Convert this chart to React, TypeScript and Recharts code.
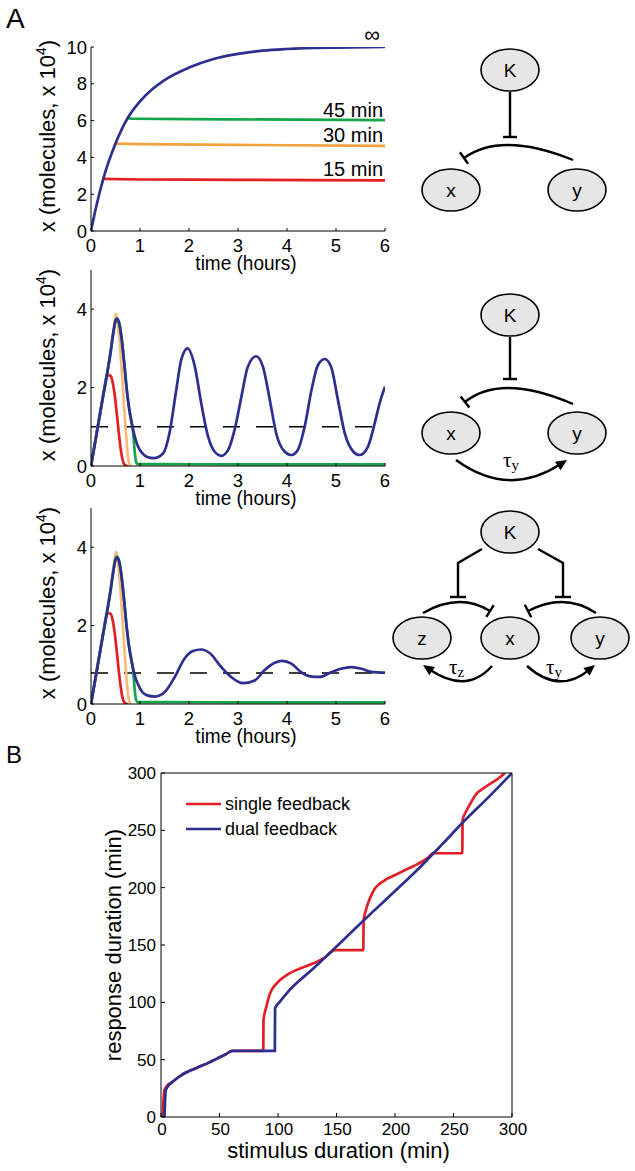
import React from "react";
import {
	Label,
	Legend,
	Line,
	LineChart,
	ReferenceDot,
	ReferenceLine,
	XAxis,
	YAxis,
} from "recharts";

type Pt = [number, number];

const FONT = "'Liberation Sans', Arial, Helvetica, sans-serif";
const SERIF = "'Liberation Serif', 'Times New Roman', serif";

const BLUE = "#2d2e8f";
const RED = "#e41e26";
const GREEN = "#14a54b";
const ORANGE = "#efa23f";
const PALE_ORANGE = "#f8bb7a";

// axes
const hours = [0, 1, 2, 3, 4, 5, 6];
const sustainedTicks = [0, 2, 4, 6, 8, 10];
const oscTicks = [0, 2, 4];
const durationTicks = [0, 50, 100, 150, 200, 250, 300];
const legendOrder = ["single feedback", "dual feedback"];

// panel A, top: no feedback [time (h), x (x10^4)]
const noFbCont: Pt[] = [
	[0, 0], [0.1, 1.25], [0.25, 2.83], [0.5, 4.75], [0.75, 6.15], [1, 7.05],
	[1.25, 7.7], [1.5, 8.2], [2, 8.88], [2.5, 9.35], [3, 9.63], [3.5, 9.8],
	[4, 9.89], [5, 9.97], [6, 10],
];
const noFb15: Pt[] = [[0.25, 2.83], [1, 2.8], [3, 2.78], [6, 2.75]];
const noFb30: Pt[] = [[0.5, 4.75], [1, 4.72], [3, 4.68], [6, 4.63]];
const noFb45: Pt[] = [[0.75, 6.15], [0.85, 6.1], [2, 6.08], [6, 6.03]];

// panel A, middle: single (delayed) negative feedback
const singleFbCont: Pt[] = [
	[0, 0], [0.1, 0.72], [0.2, 1.45], [0.3, 2.15], [0.4, 2.9], [0.45, 3.35],
	[0.5, 3.7], [0.53, 3.76], [0.58, 3.62], [0.63, 3.2], [0.68, 2.6], [0.73, 1.95],
	[0.78, 1.45], [0.83, 1.1], [0.9, 0.72], [0.96, 0.5], [1.05, 0.32], [1.15, 0.23],
	[1.28, 0.2], [1.47, 0.32], [1.6, 0.83], [1.74, 1.94], [1.84, 2.7], [1.97, 3.0],
	[2.12, 2.53], [2.25, 1.6], [2.39, 0.75], [2.52, 0.37], [2.66, 0.26], [2.8, 0.41],
	[2.93, 0.92], [3.07, 1.77], [3.2, 2.53], [3.37, 2.8], [3.51, 2.53], [3.65, 1.68],
	[3.78, 0.83], [3.95, 0.37], [4.09, 0.28], [4.22, 0.41], [4.36, 1.0], [4.5, 1.94],
	[4.63, 2.57], [4.77, 2.73], [4.9, 2.53], [5.04, 1.68], [5.18, 0.83], [5.35, 0.37],
	[5.48, 0.28], [5.65, 0.49], [5.79, 1.09], [5.89, 1.6], [6, 2.02],
];
const singleFbThreshold = 1.0;

// panel A, bottom: dual feedback
const dualFbCont: Pt[] = [
	[0, 0], [0.1, 0.72], [0.2, 1.45], [0.3, 2.15], [0.4, 2.9], [0.45, 3.33],
	[0.5, 3.68], [0.53, 3.74], [0.58, 3.6], [0.63, 3.18], [0.68, 2.58], [0.73, 1.93],
	[0.78, 1.43], [0.83, 1.08], [0.9, 0.7], [0.96, 0.5], [1.05, 0.3], [1.15, 0.22],
	[1.3, 0.19], [1.5, 0.3], [1.71, 0.69], [1.91, 1.16], [2.08, 1.35], [2.25, 1.39],
	[2.42, 1.3], [2.66, 0.94], [2.86, 0.69], [3.1, 0.53], [3.34, 0.6], [3.54, 0.86],
	[3.75, 1.05], [3.9, 1.1], [4.09, 1.03], [4.29, 0.81], [4.5, 0.7], [4.67, 0.69],
	[4.9, 0.81], [5.1, 0.9], [5.31, 0.94], [5.52, 0.9], [5.72, 0.82], [6, 0.8],
];
const dualFbThreshold = 0.79;

// pulse responses (same in both feedback panels)
const pulse15: Pt[] = [
	[0, 0], [0.1, 0.72], [0.2, 1.45], [0.28, 2.05], [0.31, 2.25], [0.35, 2.32],
	[0.4, 2.3], [0.44, 2.15], [0.48, 1.85], [0.53, 1.3], [0.58, 0.7], [0.63, 0.25],
	[0.67, 0.06], [0.71, 0.01], [0.75, 0],
];
const pulse30: Pt[] = [
	[0, 0], [0.1, 0.72], [0.2, 1.45], [0.3, 2.15], [0.4, 2.95], [0.46, 3.5],
	[0.51, 3.88], [0.54, 3.7], [0.59, 3.1], [0.65, 2.0], [0.71, 0.9], [0.76, 0.2],
	[0.79, 0.03], [0.82, 0],
];
const pulse45: Pt[] = [
	[0, 0], [0.1, 0.72], [0.2, 1.45], [0.3, 2.15], [0.4, 2.9], [0.45, 3.35],
	[0.5, 3.7], [0.53, 3.76], [0.58, 3.62], [0.63, 3.2], [0.68, 2.6], [0.73, 1.95],
	[0.78, 1.45], [0.83, 1.1], [0.86, 0.85], [0.89, 0.4], [0.92, 0.1], [0.95, 0.05],
	[1.5, 0.05], [3, 0.04], [6, 0.04],
];

// panel B [stimulus (min), response (min)]
const singleResponse: Pt[] = [
	[1.5, 0], [2, 12], [2.8, 23], [5, 27], [9, 30], [14, 34], [19, 37.5], [25, 40.5],
	[33, 44], [40, 47], [47, 50.5], [55, 54.5], [61, 57.7], [87.4, 57.7], [87.6, 84.6],
	[90, 96], [93.2, 107.8], [98.9, 116.5], [107.4, 123.7], [118.8, 129.5],
	[130.2, 134], [140, 139], [148.7, 145.5], [172.9, 145.5], [173.2, 171.6],
	[175, 180], [177.5, 188], [180, 194], [183, 199.5], [187, 203.5], [192, 207],
	[200, 211], [210, 216], [220, 221], [228, 226], [232.5, 230], [257.5, 230],
	[257.8, 259], [260.5, 266], [263.7, 272], [269, 281], [277.6, 288], [288, 295],
	[294, 300],
];
const dualResponse: Pt[] = [
	[3, 0], [3.4, 12], [4, 23], [6, 27], [9, 30], [14, 34], [19, 37.5], [25, 40.5],
	[33, 44], [40, 47], [47, 50.5], [55, 54.5], [61, 57.7], [97.3, 57.7], [97.5, 94.8],
	[102, 101], [107.4, 107.8], [113, 114], [118.8, 119.4], [130.2, 129.6],
	[140, 139], [160, 158.5], [180, 178], [200, 197], [218.5, 215], [240, 237.5],
	[260, 259], [280, 279], [300, 300],
];

const pts = (s: Pt[]) => s.map(([t, v]) => ({ t, v }));
const last = (s: Pt[]) => s[s.length - 1][1];

// ---------- ticks & labels ----------
const leftTickA = (p: any) => (
	<g>
		<line x1={p.x + 4} x2={p.x + 7} y1={p.y} y2={p.y} stroke="#000" />
		<text x={p.x} y={p.y} dy="0.36em" textAnchor="end" fontSize={18.5} fontFamily={FONT} fill="#000">
			{p.payload.value}
		</text>
	</g>
);
const bottomTickA = (p: any) => (
	<g>
		<line x1={p.x} x2={p.x} y1={p.y} y2={p.y - 3} stroke="#000" />
		<text x={p.x} y={p.y + 21} textAnchor="middle" fontSize={18.5} fontFamily={FONT} fill="#000">
			{p.payload.value}
		</text>
	</g>
);
const leftTickB = (p: any) => (
	<g>
		<line x1={p.x + 5} x2={p.x + 9} y1={p.y} y2={p.y} stroke="#000" />
		<text x={p.x} y={p.y} dy="0.36em" textAnchor="end" fontSize={17} fontFamily={FONT} fill="#000">
			{p.payload.value}
		</text>
	</g>
);
const bottomTickB = (p: any) => (
	<g>
		<line x1={p.x} x2={p.x} y1={p.y} y2={p.y - 4} stroke="#000" />
		<text x={p.x + 1} y={p.y + 18} textAnchor="middle" fontSize={17} fontFamily={FONT} fill="#000">
			{p.payload.value}
		</text>
	</g>
);
const topTickB = (p: any) => <line x1={p.x} x2={p.x} y1={p.y} y2={p.y + 4} stroke="#000" />;
const rightTickB = (p: any) => <line x1={p.x} x2={p.x - 4} y1={p.y} y2={p.y} stroke="#000" />;

const timeLabel = (props: any) => {
	const vb = props.viewBox;
	return (
		<text
			transform={`translate(${vb.x + vb.width / 2 + 8},${vb.y + 39}) scale(1,1.05)`}
			textAnchor="middle"
			fontSize={19}
			fontFamily={FONT}
			fill="#000"
		>
			time (hours)
		</text>
	);
};
const moleculesLabel = (props: any) => {
	const vb = props.viewBox;
	return (
		<text
			transform={`translate(${vb.x + 55},${vb.y + vb.height / 2 - 3}) rotate(-90)`}
			textAnchor="middle"
			fontSize={22}
			fontFamily={FONT}
			fill="#000"
		>
			x (molecules, x 10<tspan dy={-9} fontSize={14}>4</tspan>
			<tspan dy={9}>)</tspan>
		</text>
	);
};
const endNote = (text: string, size: number, dx: number, dy: number) => (props: any) => (
	<text x={props.viewBox.x + dx} y={props.viewBox.y + dy} textAnchor="end" fontSize={size} fontFamily={FONT} fill="#000">
		{text}
	</text>
);

const axisStroke = { stroke: "#000", strokeWidth: 1 };

function TimePanel({ top, height, marginTop, yMax, ticks, children }: any) {
	return (
		<div style={{ position: "absolute", left: 0, top }}>
			<LineChart width={400} height={height} margin={{ top: marginTop, right: 15, bottom: 0, left: 0 }}>
				<XAxis
					dataKey="t"
					type="number"
					domain={[0, 6]}
					ticks={hours}
					interval={0}
					height={47}
					tickSize={0}
					tickMargin={0}
					tick={bottomTickA}
					axisLine={axisStroke}
					allowDataOverflow
				>
					<Label content={timeLabel} />
				</XAxis>
				<YAxis
					type="number"
					domain={[0, yMax]}
					ticks={ticks}
					interval={0}
					width={91}
					tickSize={0}
					tickMargin={4}
					tick={leftTickA}
					axisLine={axisStroke}
					allowDataOverflow
				>
					<Label content={moleculesLabel} />
				</YAxis>
				{children}
			</LineChart>
		</div>
	);
}

const series = (data: Pt[], color: string) => (
	<Line
		data={pts(data)}
		dataKey="v"
		type="monotone"
		stroke={color}
		strokeWidth={2.7}
		dot={false}
		isAnimationActive={false}
	/>
);

// ---------- network diagrams ----------
function Node({ cx, cy, label }: { cx: number; cy: number; label: string }) {
	return (
		<g>
			<ellipse cx={cx} cy={cy} rx={29} ry={21} fill="#e6e6e6" stroke="#000" strokeWidth={1.6} />
			<text x={cx} y={cy} dy="0.35em" textAnchor="middle" fontSize={19} fontFamily={FONT}>
				{label}
			</text>
		</g>
	);
}

function unit(ax: number, ay: number, bx: number, by: number) {
	const dx = bx - ax;
	const dy = by - ay;
	const l = Math.hypot(dx, dy) || 1;
	return [dx / l, dy / l];
}

function Inhibit({ p }: { p: number[] }) {
	const [x0, y0, cx, cy, x1, y1] = p;
	const [ux, uy] = unit(cx, cy, x1, y1);
	const h = 7;
	return (
		<g stroke="#000" strokeWidth={2.4} fill="none">
			<path d={`M${x0} ${y0} Q${cx} ${cy} ${x1} ${y1}`} />
			<line x1={x1 - uy * h} y1={y1 + ux * h} x2={x1 + uy * h} y2={y1 - ux * h} />
		</g>
	);
}

function Activate({ p }: { p: number[] }) {
	const [x0, y0, cx, cy, x1, y1] = p;
	const [ux, uy] = unit(cx, cy, x1, y1);
	const bx = x1 - ux * 11;
	const by = y1 - uy * 11;
	return (
		<g>
			<path d={`M${x0} ${y0} Q${cx} ${cy} ${bx + ux * 3} ${by + uy * 3}`} stroke="#000" strokeWidth={2.4} fill="none" />
			<polygon points={`${x1},${y1} ${bx - uy * 5},${by + ux * 5} ${bx + uy * 5},${by - ux * 5}`} fill="#000" />
		</g>
	);
}

function Tau({ x, y, sub }: { x: number; y: number; sub: string }) {
	return (
		<text x={x} y={y} fontSize={21} fontFamily={SERIF} fill="#000">
			τ<tspan fontSize={15} dy={3}>{sub}</tspan>
		</text>
	);
}

function Diagrams() {
	return (
		<svg width={635} height={1171} style={{ position: "absolute", left: 0, top: 0 }}>
			<text x={6} y={28} fontSize={28} fontFamily={FONT}>A</text>
			<text x={6} y={763} fontSize={24} fontFamily={FONT}>B</text>

			{/* no feedback */}
			<Node cx={510} cy={70} label="K" />
			<Node cx={451} cy={190} label="x" />
			<Node cx={577} cy={190} label="y" />
			<Inhibit p={[510, 92, 510, 115, 510, 137]} />
			<Inhibit p={[573, 160, 501.5, 131, 464, 158]} />

			{/* single feedback */}
			<Node cx={510} cy={315} label="K" />
			<Node cx={451} cy={433} label="x" />
			<Node cx={577} cy={433} label="y" />
			<Inhibit p={[510, 337, 510, 358, 510, 379]} />
			<Inhibit p={[573, 404, 501, 373, 465, 402]} />
			<Activate p={[456, 460, 508.5, 498, 567, 460]} />
			<Tau x={503} y={467} sub="y" />

			{/* dual feedback */}
			<Node cx={510} cy={532} label="K" />
			<Node cx={422} cy={638} label="z" />
			<Node cx={510} cy={638} label="x" />
			<Node cx={600} cy={638} label="y" />
			<g stroke="#000" strokeWidth={2.4} fill="none">
				<path d="M482 549 L458 563 L458 597" />
				<line x1={450} x2={466} y1={597} y2={597} />
				<path d="M538 549 L563 563 L563 597" />
				<line x1={555} x2={571} y1={597} y2={597} />
			</g>
			<Inhibit p={[423, 613, 459.5, 592, 490, 611]} />
			<Inhibit p={[596, 613, 564.5, 592, 528, 611]} />
			<Activate p={[492, 666, 466.5, 694.5, 423, 665]} />
			<Activate p={[527, 666, 559, 694.5, 595, 665]} />
			<Tau x={449} y={674} sub="z" />
			<Tau x={546} y={674} sub="y" />
		</svg>
	);
}

const legendContent = (props: any) => {
	const items = [...(props.payload || [])].sort(
		(a: any, b: any) => legendOrder.indexOf(a.value) - legendOrder.indexOf(b.value),
	);
	return (
		<svg width={220} height={50}>
			{items.map((e: any, i: number) => (
				<g key={e.value}>
					<line x1={0} x2={35} y1={12 + 25 * i} y2={12 + 25 * i} stroke={e.color} strokeWidth={2.7} />
					<text x={39} y={12 + 25 * i} dy="0.35em" fontSize={18} fontFamily={FONT} fill="#000">
						{e.value}
					</text>
				</g>
			))}
		</svg>
	);
};

export default function App() {
	return (
		<div style={{ position: "absolute", left: 0, top: 0, width: 635, height: 1171, background: "#fff" }}>
			<Diagrams />

			<TimePanel top={0} height={278} marginTop={47} yMax={10} ticks={sustainedTicks}>
				{series(noFb15, RED)}
				{series(noFb30, ORANGE)}
				{series(noFb45, GREEN)}
				{series(noFbCont, BLUE)}
				<ReferenceDot x={6} y={last(noFbCont)} r={0} fill="none" stroke="none" label={<Label content={endNote("∞", 22, -5, -5)} />} />
				<ReferenceDot x={6} y={last(noFb45)} r={0} fill="none" stroke="none" label={<Label content={endNote("45 min", 20, -2, -3)} />} />
				<ReferenceDot x={6} y={last(noFb30)} r={0} fill="none" stroke="none" label={<Label content={endNote("30 min", 20, -2, -4)} />} />
				<ReferenceDot x={6} y={last(noFb15)} r={0} fill="none" stroke="none" label={<Label content={endNote("15 min", 20, -2, -4)} />} />
			</TimePanel>

			<TimePanel top={250} height={263} marginTop={20} yMax={5} ticks={oscTicks}>
				<ReferenceLine y={singleFbThreshold} stroke="#000" strokeWidth={1.6} strokeDasharray="17 16" />
				{series(pulse15, RED)}
				{series(pulse30, PALE_ORANGE)}
				{series(pulse45, GREEN)}
				{series(singleFbCont, BLUE)}
			</TimePanel>

			<TimePanel top={488} height={263} marginTop={20} yMax={5} ticks={oscTicks}>
				<ReferenceLine y={dualFbThreshold} stroke="#000" strokeWidth={1.6} strokeDasharray="17 16" />
				{series(pulse15, RED)}
				{series(pulse30, PALE_ORANGE)}
				{series(pulse45, GREEN)}
				{series(dualFbCont, BLUE)}
			</TimePanel>

			<div style={{ position: "absolute", left: 60, top: 750 }}>
				<LineChart width={485} height={421} margin={{ top: 22, right: 32, bottom: 0, left: 0 }}>
					<XAxis
						dataKey="t"
						type="number"
						domain={[0, 300]}
						ticks={durationTicks}
						interval={0}
						height={54}
						tickSize={0}
						tickMargin={0}
						tick={bottomTickB}
						axisLine={axisStroke}
						allowDataOverflow
					>
						<Label
							content={(p: any) => (
								<text x={p.viewBox.x + p.viewBox.width / 2 + 2} y={p.viewBox.y + 41} textAnchor="middle" fontSize={22} fontFamily={FONT} fill="#000">
									stimulus duration (min)
								</text>
							)}
						/>
					</XAxis>
					<XAxis
						xAxisId="top"
						orientation="top"
						type="number"
						domain={[0, 300]}
						ticks={durationTicks}
						interval={0}
						height={1}
						tickSize={0}
						tickMargin={0}
						tick={topTickB}
						axisLine={axisStroke}
					/>
					<YAxis
						type="number"
						domain={[0, 300]}
						ticks={durationTicks}
						interval={0}
						width={101}
						tickSize={0}
						tickMargin={5}
						tick={leftTickB}
						axisLine={axisStroke}
						allowDataOverflow
					>
						<Label
							content={(p: any) => (
								<text
									transform={`translate(${p.viewBox.x + 61},${p.viewBox.y + p.viewBox.height / 2}) rotate(-90)`}
									textAnchor="middle"
									fontSize={22}
									fontFamily={FONT}
									fill="#000"
								>
									response duration (min)
								</text>
							)}
						/>
					</YAxis>
					<YAxis
						yAxisId="right"
						orientation="right"
						type="number"
						domain={[0, 300]}
						ticks={durationTicks}
						interval={0}
						width={1}
						tickSize={0}
						tickMargin={0}
						tick={rightTickB}
						axisLine={axisStroke}
					/>
					<Legend
						layout="vertical"
						align="center"
						verticalAlign="middle"
						wrapperStyle={{ left: 126, top: 42, width: 220 }}
						content={legendContent}
					/>
					<Line
						name="single feedback"
						data={pts(singleResponse)}
						dataKey="v"
						type="monotone"
						stroke={RED}
						strokeWidth={2.7}
						dot={false}
						isAnimationActive={false}
					/>
					<Line
						name="dual feedback"
						data={pts(dualResponse)}
						dataKey="v"
						type="monotone"
						stroke={BLUE}
						strokeWidth={2.7}
						dot={false}
						isAnimationActive={false}
					/>
				</LineChart>
			</div>
		</div>
	);
}
